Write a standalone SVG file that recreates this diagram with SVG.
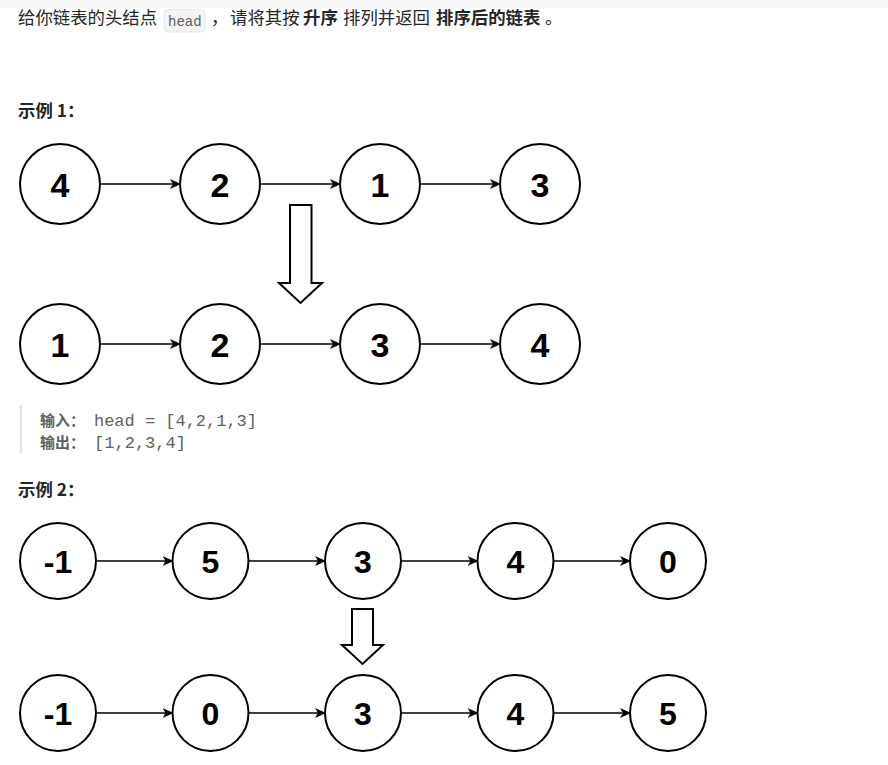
<svg xmlns="http://www.w3.org/2000/svg" width="888" height="765" viewBox="0 0 888 765">
<defs>
<style>
.t{font-family:"Noto Sans CJK SC","Liberation Sans",sans-serif;font-size:17.4px;fill:#262626}
.b{font-weight:bold}
.code{font-family:"Liberation Mono","DejaVu Sans Mono",monospace;fill:#5f5f5f}
.cl{font-family:"Noto Sans CJK SC",sans-serif;font-size:15px;font-weight:bold;fill:#5f5f5f}
.n circle{fill:#fff;stroke:#000;stroke-width:2}
.n text{font-family:"Liberation Sans",Arial,sans-serif;font-weight:bold;fill:#000;text-anchor:middle}
.r1 text{font-size:34px}
.r2 text{font-size:32px}
.e line{stroke:#000;stroke-width:1.6;marker-end:url(#ah)}
.big{fill:#fff;stroke:#000;stroke-width:2;stroke-linejoin:miter}
</style>
<marker id="ah" markerWidth="12" markerHeight="10" refX="10" refY="5" orient="auto" markerUnits="userSpaceOnUse">
<path d="M0,0 L11,5 L0,10 L3,5 Z" fill="#000"/>
</marker>
</defs>
<rect x="0" y="0" width="888" height="765" fill="#fff"/>
<rect x="0" y="0" width="888" height="8" fill="#f7f7f8"/>

<g id="intro">
<text class="t" x="18" y="24">给你链表的头结点</text>
<rect x="164" y="9.5" width="41" height="22.5" rx="4" fill="#f4f4f5" stroke="#e6e6e6"/>
<text class="code" x="168" y="25.5" font-size="14">head</text>
<text class="t" x="211" y="24">，</text>
<text class="t" x="230" y="24">请将其按</text>
<text class="t b" x="303" y="24">升序</text>
<text class="t" x="343" y="24">排列并返回</text>
<text class="t b" x="436" y="24">排序后的链表</text>
<text class="t" x="545" y="24">。</text>
</g>

<g id="label1"><text class="t b" x="18" y="117" font-size="17">示例 1：</text></g>

<g id="connectors">
<g class="e">
<line x1="100" y1="184" x2="180" y2="184"/>
<line x1="260" y1="184" x2="340" y2="184"/>
<line x1="420" y1="184" x2="500" y2="184"/>
<line x1="100" y1="344" x2="180" y2="344"/>
<line x1="260" y1="344" x2="340" y2="344"/>
<line x1="420" y1="344" x2="500" y2="344"/>
<line x1="96" y1="561" x2="172.5" y2="561"/>
<line x1="248.5" y1="561" x2="325" y2="561"/>
<line x1="401" y1="561" x2="477.5" y2="561"/>
<line x1="553.5" y1="561" x2="630" y2="561"/>
<line x1="96" y1="713" x2="172.5" y2="713"/>
<line x1="248.5" y1="713" x2="325" y2="713"/>
<line x1="401" y1="713" x2="477.5" y2="713"/>
<line x1="553.5" y1="713" x2="630" y2="713"/>
</g>
<polygon class="big" points="290,205 311.5,205 311.5,283 322,283 300.5,303 279,283 290,283"/>
<polygon class="big" points="352,609 373,609 373,645 383,645 362.5,664 342,645 352,645"/>
</g>

<g class="n r1">
<g id="a1"><circle cx="60" cy="184" r="40"/><text x="60" y="197">4</text></g>
<g id="a2"><circle cx="220" cy="184" r="40"/><text x="220" y="197">2</text></g>
<g id="a3"><circle cx="380" cy="184" r="40"/><text x="380" y="197">1</text></g>
<g id="a4"><circle cx="540" cy="184" r="40"/><text x="540" y="197">3</text></g>
<g id="b1"><circle cx="60" cy="344" r="40"/><text x="60" y="357">1</text></g>
<g id="b2"><circle cx="220" cy="344" r="40"/><text x="220" y="357">2</text></g>
<g id="b3"><circle cx="380" cy="344" r="40"/><text x="380" y="357">3</text></g>
<g id="b4"><circle cx="540" cy="344" r="40"/><text x="540" y="357">4</text></g>
</g>

<g id="code1">
<rect x="19.5" y="405" width="2.5" height="49" fill="#e5e5e5"/>
<text class="cl" x="40" y="426">输入：</text>
<text class="code" x="94" y="426" font-size="16.5" textLength="163" lengthAdjust="spacingAndGlyphs">head = [4,2,1,3]</text>
<text class="cl" x="40" y="448">输出：</text>
<text class="code" x="94" y="448" font-size="16.5" textLength="92" lengthAdjust="spacingAndGlyphs">[1,2,3,4]</text>
</g>

<g id="label2"><text class="t b" x="18" y="496" font-size="17">示例 2：</text></g>

<g class="n r2">
<g id="c1"><circle cx="58" cy="561" r="38"/><text x="58" y="573">-1</text></g>
<g id="c2"><circle cx="210.5" cy="561" r="38"/><text x="210.5" y="573">5</text></g>
<g id="c3"><circle cx="363" cy="561" r="38"/><text x="363" y="573">3</text></g>
<g id="c4"><circle cx="515.5" cy="561" r="38"/><text x="515.5" y="573">4</text></g>
<g id="c5"><circle cx="668" cy="561" r="38"/><text x="668" y="573">0</text></g>
<g id="d1"><circle cx="58" cy="713" r="38"/><text x="58" y="725">-1</text></g>
<g id="d2"><circle cx="210.5" cy="713" r="38"/><text x="210.5" y="725">0</text></g>
<g id="d3"><circle cx="363" cy="713" r="38"/><text x="363" y="725">3</text></g>
<g id="d4"><circle cx="515.5" cy="713" r="38"/><text x="515.5" y="725">4</text></g>
<g id="d5"><circle cx="668" cy="713" r="38"/><text x="668" y="725">5</text></g>
</g>
</svg>
